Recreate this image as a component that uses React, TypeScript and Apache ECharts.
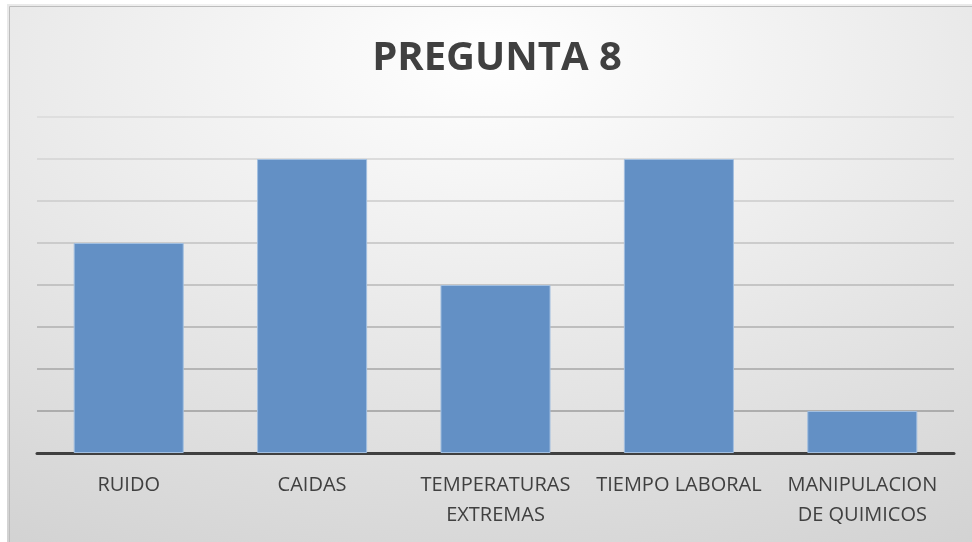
import React, { useEffect, useRef } from "react";
import * as echarts from "echarts";

const titleText = "PREGUNTA 8";
const categories = ["RUIDO", "CAIDAS", "TEMPERATURAS EXTREMAS", "TIEMPO LABORAL", "MANIPULACION DE QUIMICOS"];
const values = [5, 7, 4, 7, 1];
const yMax = 8;
const yInterval = 1;
// gridline colours from value 0 (baseline) up to value 8 (top)
const gridColors = ["#9a9a9a", "#9c9c9c", "#a6a6a6", "#afafaf", "#b8b8b8", "#c2c2c2", "#cbcbcb", "#d3d3d3", "#dadada"];

export default function App() {
  const ref = useRef<HTMLDivElement>(null);
  useEffect(() => {
    if (!ref.current) return;
    const chart = echarts.init(ref.current, undefined, { renderer: "svg" });
    chart.setOption({
      animation: false,
      backgroundColor: {
        type: "radial",
        x: 0.5,
        y: 0.1,
        r: 1.25,
        colorStops: [
          { offset: 0, color: "#ffffff" },
          { offset: 1, color: "#c9c9c9" },
        ],
      },
      graphic: [
        {
          type: "rect",
          left: 0,
          top: 0,
          shape: { width: 965, height: 538 },
          style: { fill: "none", stroke: "#bdbdbd", lineWidth: 1 },
          silent: true,
        },
        {
          type: "text",
          x: 490,
          y: 50,
          silent: true,
          style: {
            text: titleText,
            align: "center",
            verticalAlign: "middle",
            fontFamily: "Open Sans",
            fontWeight: "bold",
            fontSize: 40,
            fill: "#404040",
          },
        },
      ],
      grid: { left: 30, right: 18, top: 113, bottom: 89 },
      xAxis: {
        type: "category",
        data: categories,
        axisLine: { lineStyle: { color: "#404040", width: 3 } },
        axisTick: { show: false },
        axisLabel: {
          interval: 0,
          color: "#404040",
          fontFamily: "Open Sans",
          fontSize: 20,
          lineHeight: 30,
          margin: 15,
          formatter: (v: string) => (v.length > 15 ? v.replace(" ", "\n") : v),
        },
      },
      yAxis: {
        type: "value",
        min: 0,
        max: yMax,
        interval: yInterval,
        axisLabel: { show: false },
        axisLine: { show: false },
        axisTick: { show: false },
        splitLine: { lineStyle: { color: gridColors, width: 1.5 } },
      },
      series: [
        {
          type: "bar",
          data: values,
          barCategoryGap: "40%",
          itemStyle: { color: "#6390c5", borderColor: "#a2bfe0", borderWidth: 1 },
        },
      ],
    });
    return () => chart.dispose();
  }, []);
  return (
    <div
      ref={ref}
      style={{ position: "fixed", left: 7, top: 4, width: 965, height: 538 }}
    />
  );
}
